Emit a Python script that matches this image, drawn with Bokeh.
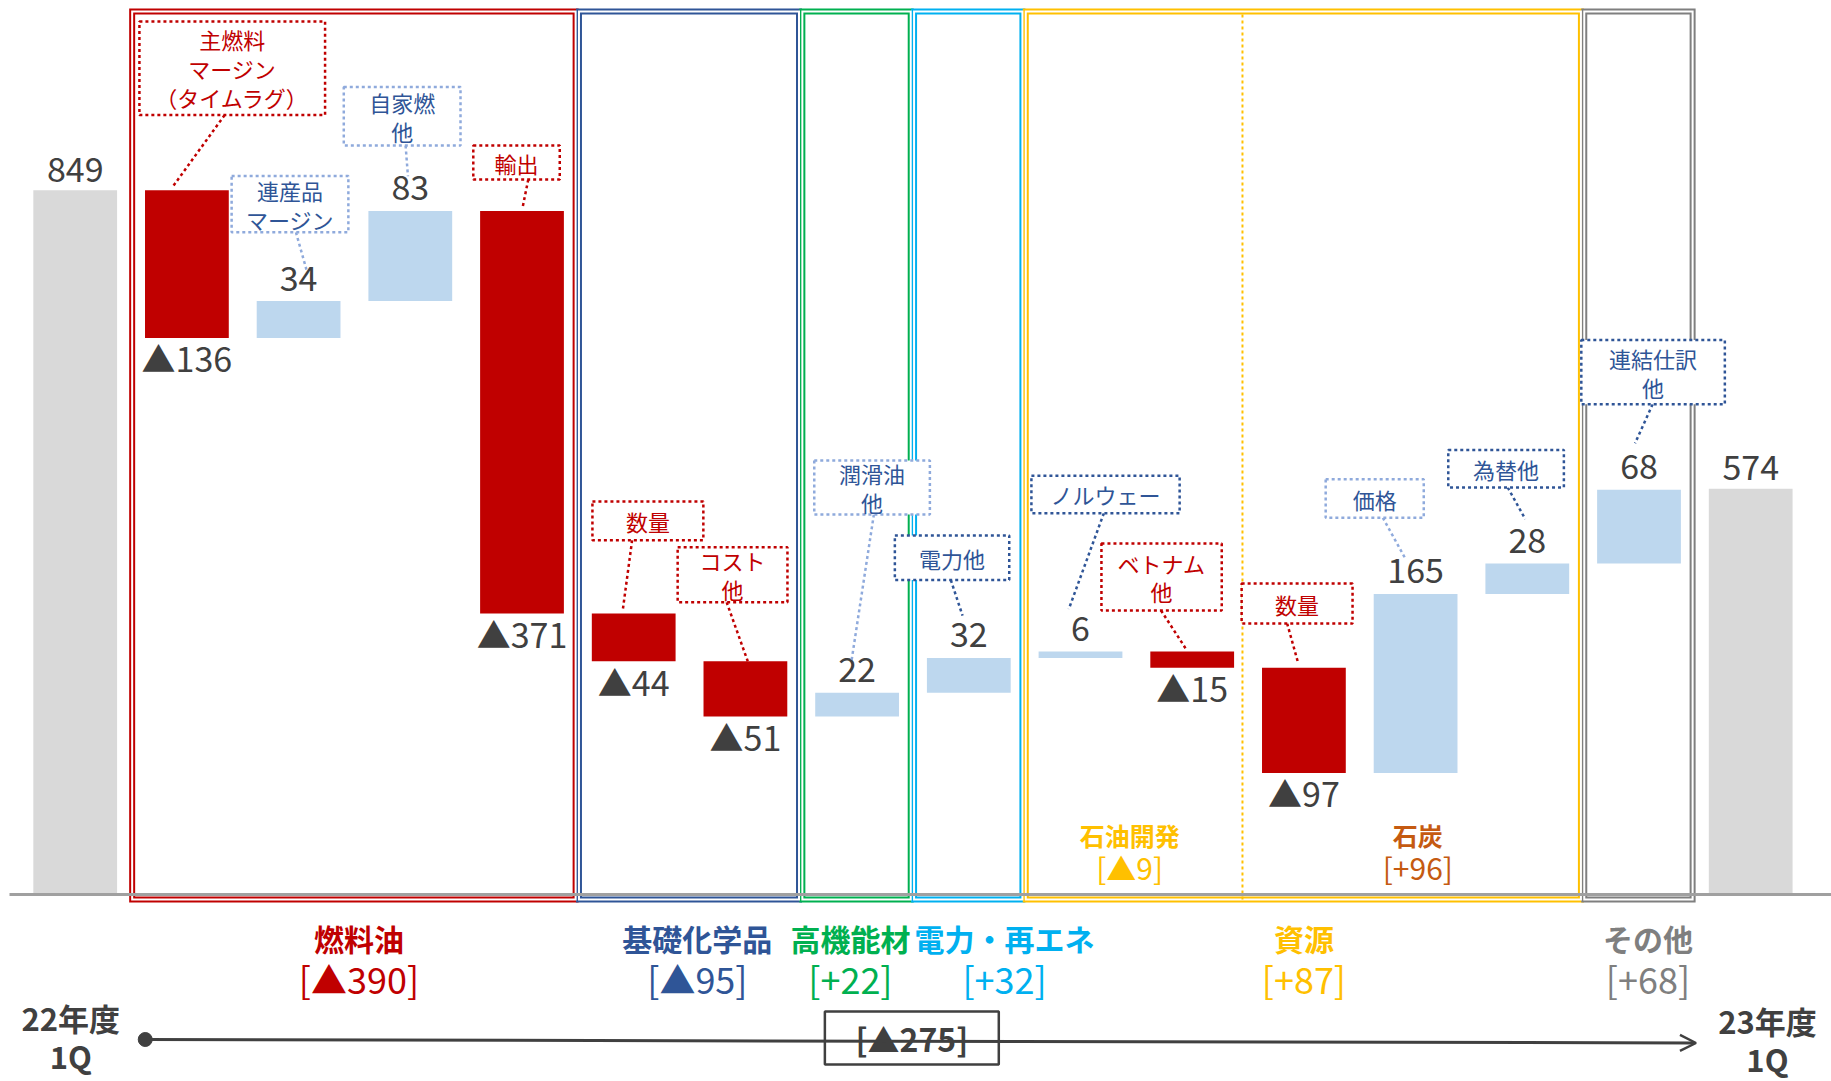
import numpy as np
from bokeh.plotting import figure
from bokeh.models import Range1d, Arrow, OpenHead
from bokeh.core.properties import value
from bokeh.embed import file_html
from bokeh.resources import INLINE

# ---------------- data ----------------
start_period = "22年度\n1Q"
end_period = "23年度\n1Q"
start_total = 849
end_total = 574

item_names = [
    "主燃料\nマージン\n（タイムラグ）", "連産品\nマージン", "自家燃\n他", "輸出",
    "数量", "コスト\n他",
    "潤滑油\n他",
    "電力他",
    "ノルウェー", "ベトナム\n他", "数量", "価格", "為替他",
    "連結仕訳\n他",
]
item_deltas = [-136, 34, 83, -371, -44, -51, 22, 32, 6, -15, -97, 165, 28, 68]

segment_names = ["燃料油", "基礎化学品", "高機能材", "電力・再エネ", "資源", "その他"]
segment_sizes = [4, 2, 1, 1, 5, 1]

resource_parts = ["石油開発", "石炭"]
resource_part_sizes = [2, 3]

# ---------------- styles ----------------
FONT = value("Noto Sans CJK JP")
DARK = "#404040"
RED = "#C00000"
LIGHT_BLUE = "#BDD7EE"
GREY_BAR = "#D9D9D9"
NAVY = "#2F5597"
PALE_NAVY = "#8FAADC"
segment_colors = [RED, NAVY, "#00B050", "#00B0F0", "#FFC000", "#7F7F7F"]
resource_part_colors = ["#FFC000", "#C55A11"]

# ---------------- layout ----------------
W, H = 1831, 1081
AXIS_FLOOR = 200          # value axis is cut at 200
PX_PER_BAR = 111.7
PX_PER_UNIT = 1.085
FIRST_BAR_PX = 74.7
BASELINE_PX = 894
BAR_W = 0.75


def px(n):
    """vertical screen pixels -> value units"""
    return n / PX_PER_UNIT


def pxx(n):
    """horizontal screen pixels -> bar units"""
    return n / PX_PER_BAR


x_lo = -FIRST_BAR_PX / PX_PER_BAR
x_hi = (W - FIRST_BAR_PX) / PX_PER_BAR
y_lo = AXIS_FLOOR - px(H - BASELINE_PX)
y_hi = AXIS_FLOOR + px(BASELINE_PX)


def vy(pixel_row):
    """value at a given screen row"""
    return AXIS_FLOOR + px(BASELINE_PX - pixel_row)


p = figure(width=W, height=H, x_range=Range1d(x_lo, x_hi), y_range=Range1d(y_lo, y_hi),
           output_backend="svg", toolbar_location=None,
           x_axis_location=None, y_axis_location=None, min_border=0)
p.grid.visible = False
p.outline_line_color = None
p.background_fill_color = "white"
p.border_fill_color = "white"


def fmt(v):
    return f"▲{abs(v)}" if v < 0 else f"{v}"


def fmt_signed(v):
    return f"▲{abs(v)}" if v < 0 else f"+{v}"


# ---------------- waterfall geometry ----------------
n_items = len(item_deltas)
item_x = np.arange(1, n_items + 1)
levels = start_total + np.concatenate([[0], np.cumsum(item_deltas)])
item_bottom = np.minimum(levels[:-1], levels[1:])
item_top = np.maximum(levels[:-1], levels[1:])
item_color = [RED if d < 0 else LIGHT_BLUE for d in item_deltas]
total_x = np.array([0, n_items + 1])
totals = np.array([start_total, end_total])

# ---------------- segment frames (double outline) ----------------
seg_sizes = np.array(segment_sizes)
seg_start = 1 + np.concatenate([[0], np.cumsum(seg_sizes)[:-1]])
seg_end = seg_start + seg_sizes - 1
box_left = seg_start - 0.49
box_right = seg_end + 0.48
BOX_TOP = vy(11)
BOX_BOTTOM = vy(BASELINE_PX + 5)

p.quad(left=box_left, right=box_right, top=BOX_TOP, bottom=BOX_BOTTOM,
       fill_color=None, line_color=segment_colors, line_width=6, line_join="miter")
p.quad(left=box_left, right=box_right, top=BOX_TOP, bottom=BOX_BOTTOM,
       fill_color=None, line_color="white", line_width=2, line_join="miter")

# divider between the two resource sub-segments
res_start = seg_start[segment_names.index("資源")]
div_x = res_start + resource_part_sizes[0] - 0.55
p.segment(x0=[div_x], y0=[BOX_BOTTOM], x1=[div_x], y1=[BOX_TOP],
          line_color="#FFC000", line_width=2, line_dash="3 3")

# ---------------- bars ----------------
p.quad(left=total_x - BAR_W / 2, right=total_x + BAR_W / 2, top=totals, bottom=AXIS_FLOOR,
       fill_color=GREY_BAR, line_color=None)
p.quad(left=item_x - BAR_W / 2, right=item_x + BAR_W / 2, top=item_top, bottom=item_bottom,
       fill_color=item_color, line_color=None)

# category axis line
p.segment(x0=[x_lo + pxx(9)], y0=[AXIS_FLOOR], x1=[x_hi], y1=[AXIS_FLOOR],
          line_color="#A0A0A0", line_width=3)

# ---------------- value labels ----------------
lab_x, lab_y, lab_t = [], [], []
for x, t in zip(total_x, totals):
    lab_x.append(x); lab_y.append(t + px(21)); lab_t.append(fmt(int(t)))
for x, d, lo, hi in zip(item_x, item_deltas, item_bottom, item_top):
    lab_x.append(x)
    lab_y.append(hi + px(23) if d >= 0 else lo - px(20))
    lab_t.append(fmt(d))
p.text(x=lab_x, y=lab_y, text=lab_t, text_font=FONT, text_font_size="34px",
       text_color=DARK, text_align="center", text_baseline="alphabetic")

# ---------------- callouts ----------------
callout_styles = {
    "red": (RED, RED),
    "pale": (PALE_NAVY, NAVY),
    "navy": (NAVY, NAVY),
}
# box centre x, box centre y, box width, box height,
# leader start x, leader end offset from bar centre, leader lift above bar top, style
callout_layout = [
    (1.406, 961.5, 1.662, 86.3, 1.338, -0.122, 4, "red"),
    (1.923, 836.3, 1.045, 51.8, 1.976, 0.070, 29, "pale"),
    (2.927, 917.3, 1.045, 54.0, 2.958, -0.021, 32, "pale"),
    (3.951, 874.6, 0.774, 31.3, 4.056, 0.003, 2, "red"),
    (5.127, 544.4, 0.993, 35.6, 4.986, -0.098, 3, "red"),
    (5.885, 494.7, 0.983, 50.6, 5.832, 0.021, 0, "red"),
    (7.134, 575.1, 1.035, 49.7, 7.150, -0.049, 30, "pale"),
    (7.850, 510.4, 1.024, 41.1, 7.839, -0.056, 39, "navy"),
    (9.224, 568.7, 1.327, 34.6, 9.209, -0.105, 39, "navy"),
    (9.726, 492.6, 1.077, 61.6, 9.721, -0.060, 3, "red"),
    (10.939, 468.2, 0.993, 36.7, 10.850, -0.056, 6, "red"),
    (11.634, 564.9, 0.878, 35.5, 11.707, -0.094, 33, "pale"),
    (12.810, 592.4, 1.035, 34.6, 12.825, -0.018, 41, "navy"),
    (14.126, 681.4, 1.285, 59.3, 14.122, -0.035, 43, "navy"),
]

for i, (name, (cx, cy, bw, bh, sx, edx, lift, style)) in enumerate(zip(item_names, callout_layout)):
    border, txt = callout_styles[style]
    bar = item_x[i]
    p.segment(x0=[sx], y0=[cy - bh / 2], x1=[bar + edx], y1=[item_top[i] + lift],
              line_color=border, line_width=2.5, line_dash="3 3")
    p.rect(x=[cx], y=[cy], width=bw, height=bh, fill_color="white",
           line_color=border, line_width=2.5, line_dash="3 3")
    p.text(x=[cx], y=[cy], text=[name], text_font=FONT, text_font_size="22px",
           text_color=txt, text_align="center", text_baseline="middle",
           text_line_height=0.9)

# ---------------- segment captions ----------------
seg_sums = [int(np.sum(item_deltas[s - 1:e])) for s, e in zip(seg_start, seg_end)]
seg_label_shift = [0.04, 0.07, -0.06, 0.32, 0.0, 0.08]
seg_cx = (seg_start + seg_end) / 2 + np.array(seg_label_shift)
p.text(x=seg_cx, y=vy(937), text=segment_names, text_font=FONT,
       text_font_size="30px", text_font_style="bold", text_color=segment_colors,
       text_align="center", text_baseline="middle")
p.text(x=seg_cx, y=vy(977), text=[f"[{fmt_signed(v)}]" for v in seg_sums],
       text_font=FONT, text_font_size="36px", text_color=segment_colors,
       text_align="center", text_baseline="middle")

# resource sub-segments
part_start = res_start + np.concatenate([[0], np.cumsum(resource_part_sizes)[:-1]])
part_end = part_start + np.array(resource_part_sizes) - 1
part_cx = (part_start + part_end) / 2 + np.array([-0.06, 0.02])
part_sums = [int(np.sum(item_deltas[s - 1:e])) for s, e in zip(part_start, part_end)]
p.text(x=part_cx, y=vy(834), text=resource_parts, text_font=FONT,
       text_font_size="25px", text_font_style="bold", text_color=resource_part_colors,
       text_align="center", text_baseline="middle")
p.text(x=part_cx, y=vy(866), text=[f"[{fmt_signed(v)}]" for v in part_sums],
       text_font=FONT, text_font_size="30px", text_color=resource_part_colors,
       text_align="center", text_baseline="middle")

# ---------------- period timeline ----------------
tl_x0, tl_x1 = 0.627, 14.51
tl_y0, tl_y1 = vy(1039), vy(1042.5)
p.add_layout(Arrow(end=OpenHead(size=16, line_color=DARK, line_width=2.5),
                   x_start=tl_x0, y_start=tl_y0, x_end=tl_x1, y_end=tl_y1,
                   line_color=DARK, line_width=3))
p.scatter(x=[tl_x0], y=[tl_y0], size=14, fill_color=DARK, line_color=DARK)

total_change = end_total - start_total
tb_cx, tb_w, tb_h = 7.49, 1.557, px(53)
tb_cy = vy(1037.5)
p.rect(x=[tb_cx], y=[tb_cy], width=tb_w, height=tb_h, fill_color="white",
       line_color=DARK, line_width=2.5)
p.text(x=[tb_cx], y=[tb_cy], text=[f"[{fmt_signed(total_change)}]"], text_font=FONT,
       text_font_size="32px", text_font_style="bold", text_color=DARK,
       text_align="center", text_baseline="middle")

p.text(x=[total_x[0] - 0.04, total_x[1] + 0.15], y=[vy(1036), vy(1039)],
       text=[start_period, end_period], text_font=FONT, text_font_size="31px",
       text_font_style="bold", text_color=DARK, text_align="center",
       text_baseline="middle", text_line_height=0.86)

open("out.html", "w").write(file_html(p, INLINE))
